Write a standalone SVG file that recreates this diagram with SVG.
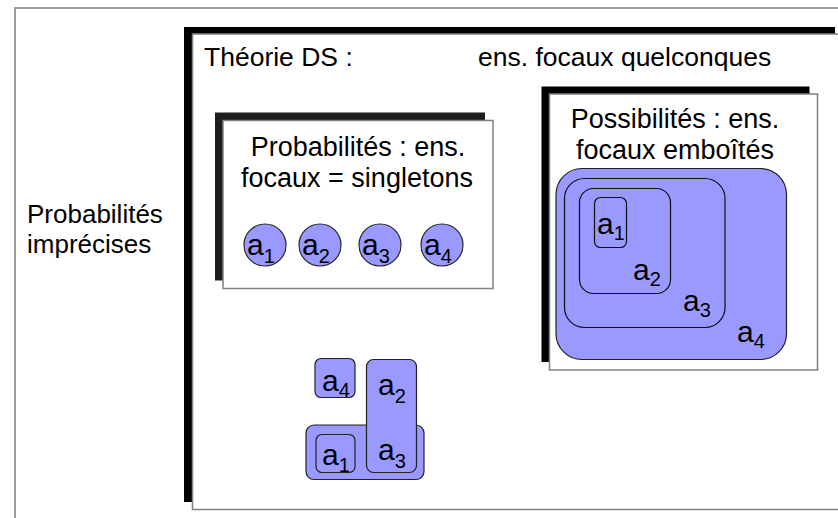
<svg xmlns="http://www.w3.org/2000/svg" width="838" height="518" viewBox="0 0 838 518">
  <style>
    text { font-family: "Liberation Sans", Arial, sans-serif; fill: #000; }
    .t-top { font-size: 26.5px; }
    .t26 { font-size: 26px; }
    .t27 { font-size: 27px; }
    .lbl { font-size: 30px; }
    .sub { font-size: 20px; }
    .frame { fill: #fff; stroke: #808080; stroke-width: 1.5; }
    .box { fill: #fff; stroke: #808080; stroke-width: 1.5; }
    .shadow { fill: #000; }
    .set { fill: #9999ff; stroke: #222; stroke-width: 1.2; }
    .nest { fill: none; stroke: #111; stroke-width: 1.2; }
    .mid { text-anchor: middle; }
  </style>

  <rect x="0" y="0" width="838" height="518" fill="#fff"/>

  <g id="outer-frame">
    <rect class="frame" x="15" y="8" width="840" height="530"/>
  </g>

  <g id="label-imprecises">
    <text class="t26" x="27" y="223">Probabilités</text>
    <text class="t26" x="27" y="253">imprécises</text>
  </g>

  <g id="box-ds">
    <rect class="shadow" x="184" y="27" width="651" height="475"/>
    <rect class="box" x="192.5" y="34" width="660" height="475.5"/>
    <text class="t-top" x="204" y="66">Théorie DS :</text>
    <text class="t-top" x="478" y="66">ens. focaux quelconques</text>
  </g>

  <g id="box-probabilites">
    <rect x="215" y="112.5" width="270" height="168" fill="#1e1e1e"/>
    <rect class="box" x="223" y="120.5" width="270" height="168"/>
    <text class="t27 mid" x="358" y="156">Probabilités : ens.</text>
    <text class="t27 mid" x="357" y="187">focaux = singletons</text>
    <g id="singleton-a1">
      <circle class="set" cx="265" cy="245" r="21"/>
      <text class="lbl" x="247" y="255">a<tspan class="sub" dy="8">1</tspan></text>
    </g>
    <g id="singleton-a2">
      <circle class="set" cx="320" cy="245" r="21"/>
      <text class="lbl" x="302" y="255">a<tspan class="sub" dy="8">2</tspan></text>
    </g>
    <g id="singleton-a3">
      <circle class="set" cx="380" cy="245" r="21"/>
      <text class="lbl" x="362" y="255">a<tspan class="sub" dy="8">3</tspan></text>
    </g>
    <g id="singleton-a4">
      <circle class="set" cx="442" cy="245" r="21"/>
      <text class="lbl" x="424" y="255">a<tspan class="sub" dy="8">4</tspan></text>
    </g>
  </g>

  <g id="box-possibilites">
    <rect class="shadow" x="541.5" y="86.5" width="268" height="275.5"/>
    <rect class="box" x="549.5" y="94" width="268" height="276"/>
    <text class="t27 mid" x="675" y="128">Possibilités : ens.</text>
    <text class="t27 mid" x="675" y="159">focaux emboîtés</text>
    <g id="nested-a4">
      <rect class="set" x="556" y="168.5" width="230.5" height="191" rx="26" stroke="#333" stroke-width="1.5"/>
    </g>
    <g id="nested-a3">
      <rect class="nest" x="564.5" y="178.5" width="160.5" height="149" rx="20"/>
    </g>
    <g id="nested-a2">
      <rect class="nest" x="579.5" y="188.5" width="91" height="105" rx="14"/>
    </g>
    <g id="nested-a1">
      <rect class="nest" x="594.5" y="197.5" width="32" height="50" rx="6"/>
    </g>
    <text class="lbl" x="597" y="234">a<tspan class="sub" dy="6">1</tspan></text>
    <text class="lbl" x="633" y="280">a<tspan class="sub" dy="6">2</tspan></text>
    <text class="lbl" x="683" y="311">a<tspan class="sub" dy="6">3</tspan></text>
    <text class="lbl" x="737" y="342">a<tspan class="sub" dy="6">4</tspan></text>
  </g>

  <g id="cluster-quelconques">
    <g id="set-a1a3">
      <rect class="set" x="306" y="425" width="118" height="54.5" rx="8" stroke="#444"/>
    </g>
    <g id="set-a1">
      <rect class="set" x="316" y="434.5" width="39" height="38" rx="6"/>
      <text class="lbl" x="322" y="465">a<tspan class="sub" dy="7">1</tspan></text>
    </g>
    <g id="set-a2a3">
      <rect class="set" x="366.5" y="359.5" width="50" height="113" rx="7"/>
      <text class="lbl" x="378" y="395">a<tspan class="sub" dy="8">2</tspan></text>
      <text class="lbl" x="378" y="460">a<tspan class="sub" dy="8">3</tspan></text>
    </g>
    <g id="set-a4">
      <rect class="set" x="315" y="358.5" width="40" height="39" rx="6"/>
      <text class="lbl" x="322" y="391">a<tspan class="sub" dy="6">4</tspan></text>
    </g>
  </g>
</svg>
